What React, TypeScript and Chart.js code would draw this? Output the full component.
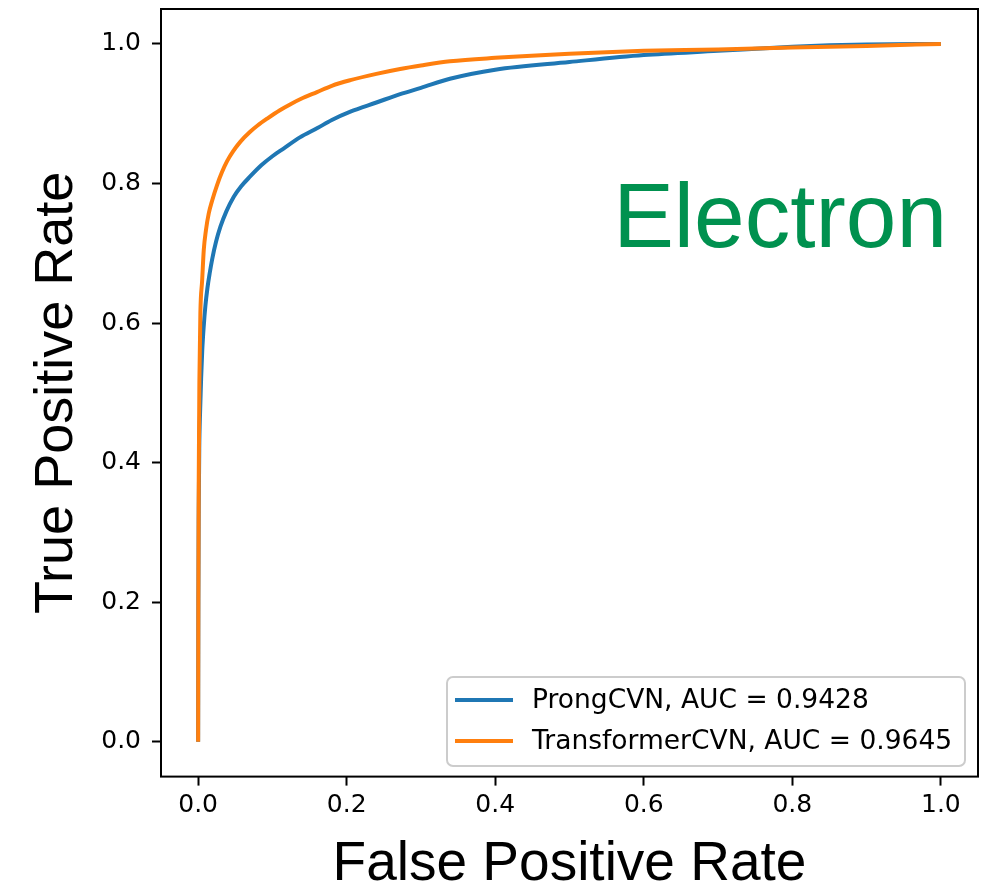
import React, { useEffect, useRef } from 'react';
import { Chart, registerables } from 'chart.js';

Chart.register(...registerables);

// ---- data ----
const prongFPR = [0, 0.0003, 0.0008, 0.0015, 0.0027, 0.004, 0.0055, 0.0075, 0.0098, 0.0125, 0.0155, 0.019, 0.024, 0.030, 0.038, 0.048, 0.058, 0.070, 0.085, 0.10, 0.115, 0.137, 0.160, 0.18, 0.205, 0.24, 0.272, 0.30, 0.339, 0.4, 0.5, 0.6, 0.7, 0.8, 0.85, 0.9, 1.0];
const prongTPR = [0, 0.2, 0.33, 0.42, 0.475, 0.52, 0.56, 0.595, 0.625, 0.65, 0.671, 0.692, 0.716, 0.738, 0.760, 0.781, 0.796, 0.810, 0.826, 0.839, 0.850, 0.866, 0.879, 0.891, 0.903, 0.916, 0.928, 0.937, 0.950, 0.963, 0.974, 0.984, 0.990, 0.996, 0.998, 0.999, 1.0];

const transFPR = [0, 0.0003, 0.0008, 0.0017, 0.003, 0.0054, 0.0076, 0.0105, 0.0143, 0.019, 0.0256, 0.032, 0.039, 0.047, 0.057, 0.07, 0.08, 0.093, 0.11, 0.125, 0.138, 0.16, 0.18, 0.205, 0.24, 0.272, 0.30, 0.339, 0.4, 0.5, 0.6, 0.7, 0.8, 0.9, 1.0];
const transTPR = [0, 0.2, 0.375, 0.518, 0.614, 0.661, 0.705, 0.733, 0.757, 0.776, 0.798, 0.816, 0.832, 0.846, 0.860, 0.874, 0.883, 0.893, 0.905, 0.914, 0.921, 0.931, 0.940, 0.948, 0.957, 0.964, 0.969, 0.975, 0.980, 0.986, 0.990, 0.992, 0.995, 0.997, 1.0];

const seriesLabels = ['ProngCVN, AUC = 0.9428', 'TransformerCVN, AUC = 0.9645'];
const seriesColors = ['#1f77b4', '#ff7f0e'];
const xTickValues = [0, 0.2, 0.4, 0.6, 0.8, 1.0];
const yTickValues = [0, 0.2, 0.4, 0.6, 0.8, 1.0];
const xTitle = 'False Positive Rate';
const yTitle = 'True Positive Rate';
const particleLabel = 'Electron';

const toPoints = (xs: number[], ys: number[]) => xs.map((x, i) => ({ x, y: ys[i] }));

const SANS = '"Liberation Sans", Arial, Helvetica, sans-serif';
const DEJAVU = '"DejaVu Sans", sans-serif';

const overlayPlugin = {
  id: 'overlay',
  afterDraw(chart: any) {
    const { ctx, chartArea: a } = chart;
    ctx.save();
    // frame (spines)
    ctx.strokeStyle = '#000';
    ctx.lineWidth = 2;
    ctx.strokeRect(a.left, a.top, a.right - a.left, a.bottom - a.top);

    // particle label
    ctx.fillStyle = '#00914F';
    ctx.font = `91px ${SANS}`;
    ctx.textAlign = 'right';
    ctx.textBaseline = 'alphabetic';
    ctx.fillText(particleLabel, a.right - 31, a.top + 238);

    // axis titles
    ctx.fillStyle = '#000';
    ctx.font = `55px ${SANS}`;
    ctx.textAlign = 'center';
    ctx.fillText(xTitle, (a.left + a.right) / 2, a.bottom + 103.4);
    ctx.save();
    ctx.translate(72, (a.top + a.bottom) / 2);
    ctx.rotate(-Math.PI / 2);
    ctx.font = `54px ${SANS}`;
    ctx.fillText(yTitle, 0, 0);
    ctx.restore();

    // legend
    const bx = 447, by = 677, bw = 518, bh = 89;
    ctx.beginPath();
    ctx.roundRect(bx, by, bw, bh, 6);
    ctx.fillStyle = 'rgba(255,255,255,0.8)';
    ctx.fill();
    ctx.strokeStyle = '#cccccc';
    ctx.lineWidth = 2;
    ctx.stroke();
    const rows = [700, 741];
    chart.data.datasets.forEach((ds: any, i: number) => {
      const y = rows[i];
      ctx.beginPath();
      ctx.strokeStyle = ds.borderColor;
      ctx.lineWidth = 4;
      ctx.moveTo(455, y);
      ctx.lineTo(513, y);
      ctx.stroke();
      ctx.fillStyle = '#000';
      ctx.font = `26.5px ${DEJAVU}`;
      ctx.textAlign = 'left';
      ctx.textBaseline = 'middle';
      ctx.fillText(ds.label, 532, y + 1);
    });
    ctx.restore();
  },
};

export default function App() {
  const ref = useRef<HTMLCanvasElement | null>(null);

  useEffect(() => {
    if (!ref.current) return;
    const tickFont = { family: DEJAVU, size: 25 };
    const chart = new Chart(ref.current, {
      type: 'line',
      data: {
        datasets: [
          {
            label: seriesLabels[0],
            data: toPoints(prongFPR, prongTPR),
            borderColor: seriesColors[0],
            backgroundColor: seriesColors[0],
            borderWidth: 4,
            pointRadius: 0,
            cubicInterpolationMode: 'monotone',
            order: 1,
          },
          {
            label: seriesLabels[1],
            data: toPoints(transFPR, transTPR),
            borderColor: seriesColors[1],
            backgroundColor: seriesColors[1],
            borderWidth: 4,
            pointRadius: 0,
            cubicInterpolationMode: 'monotone',
            order: 0,
          },
        ],
      },
      options: {
        animation: false,
        responsive: false,
        layout: { padding: { top: 9, right: 12, left: 0, bottom: 0 } },
        plugins: { legend: { display: false }, tooltip: { enabled: false } },
        scales: {
          x: {
            type: 'linear',
            min: -0.05,
            max: 1.05,
            afterBuildTicks: (s: any) => { s.ticks = xTickValues.map((v) => ({ value: v })); },
            afterFit: (s: any) => { s.height = 107.4; s.paddingLeft = 0; s.paddingRight = 0; },
            ticks: {
              font: tickFont,
              color: '#000',
              padding: 4.5,
              maxRotation: 0,
              callback: (v: any) => Number(v).toFixed(1),
            },
            grid: { display: true, drawOnChartArea: false, drawTicks: true, tickLength: 9, tickWidth: 2, tickColor: '#000' },
            border: { display: false },
          },
          y: {
            type: 'linear',
            min: -0.05,
            max: 1.05,
            afterBuildTicks: (s: any) => { s.ticks = yTickValues.map((v) => ({ value: v })); },
            afterFit: (s: any) => { s.width = 161; s.paddingTop = 0; s.paddingBottom = 0; },
            ticks: {
              font: tickFont,
              color: '#000',
              padding: 11,
              callback: (v: any) => Number(v).toFixed(1),
            },
            grid: { display: true, drawOnChartArea: false, drawTicks: true, tickLength: 9, tickWidth: 2, tickColor: '#000' },
            border: { display: false },
          },
        },
      },
      plugins: [overlayPlugin],
    } as any);
    return () => chart.destroy();
  }, []);

  return (
    <div style={{ position: 'absolute', left: 0, top: 0, width: 990, height: 884, background: '#fff' }}>
      <canvas ref={ref} width={990} height={884} style={{ display: 'block' }} />
    </div>
  );
}
